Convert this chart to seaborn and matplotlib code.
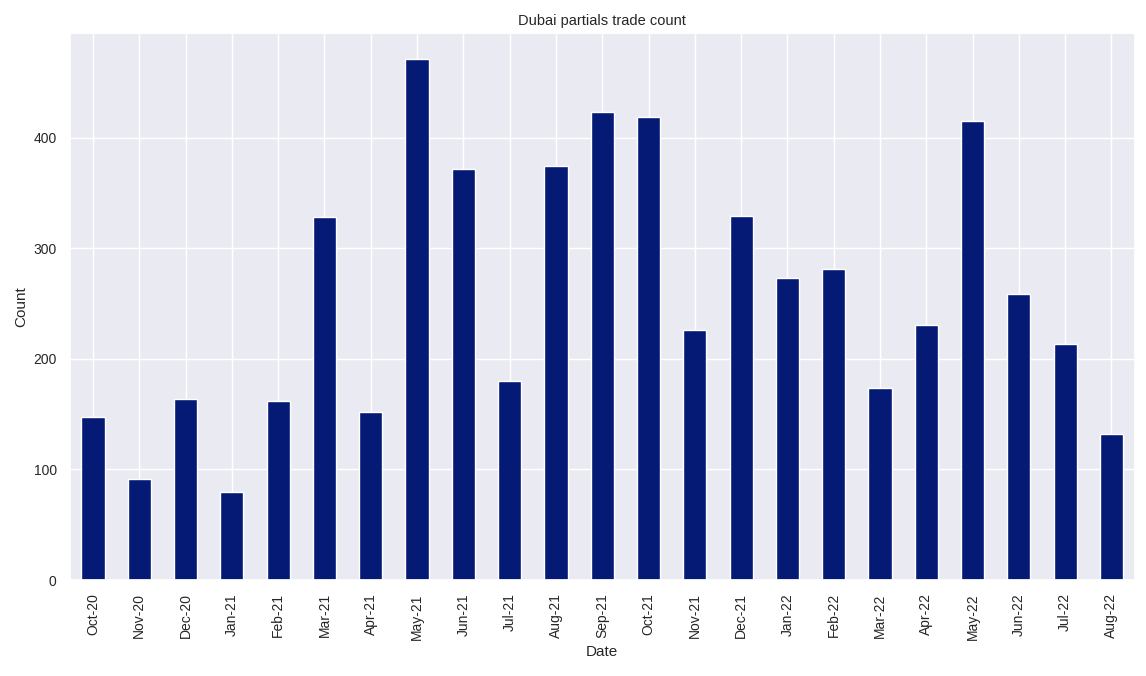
import matplotlib
matplotlib.use("Agg")
import matplotlib.pyplot as plt
import seaborn as sns
import pandas as pd

dates = ["Oct-20", "Nov-20", "Dec-20", "Jan-21", "Feb-21", "Mar-21", "Apr-21",
         "May-21", "Jun-21", "Jul-21", "Aug-21", "Sep-21", "Oct-21", "Nov-21",
         "Dec-21", "Jan-22", "Feb-22", "Mar-22", "Apr-22", "May-22", "Jun-22",
         "Jul-22", "Aug-22"]
counts = [147, 91, 164, 80, 162, 328, 152, 471, 372, 180, 374, 423, 419, 226,
          329, 273, 281, 174, 231, 415, 259, 213, 132]

sns.set_theme(style="darkgrid", palette="dark")
plt.rcParams["font.family"] = ["Liberation Sans", "DejaVu Sans"]

df = pd.DataFrame({"Date": dates, "Count": counts})

fig, ax = plt.subplots(figsize=(11.46, 6.76), dpi=100)
sns.barplot(data=df, x="Date", y="Count", color="#041a75",
            width=0.5, edgecolor="white", linewidth=1, saturation=1, ax=ax)
ax.set_xlim(-0.5, len(dates) - 0.5)
ax.set_ylim(0, max(counts) * 1.05)
ax.grid(True, axis="both", color="white")
ax.set_axisbelow(True)
ax.set_title("Dubai partials trade count", fontsize=10.5)
ax.set_xlabel("Date", fontsize=11)
ax.set_ylabel("Count", fontsize=11)
ax.tick_params(axis="x", labelrotation=90, labelsize=10)
ax.tick_params(axis="y", labelsize=10)
fig.subplots_adjust(left=0.061, right=0.990, top=0.951, bottom=0.142)
fig.savefig("out.png", dpi=100)
